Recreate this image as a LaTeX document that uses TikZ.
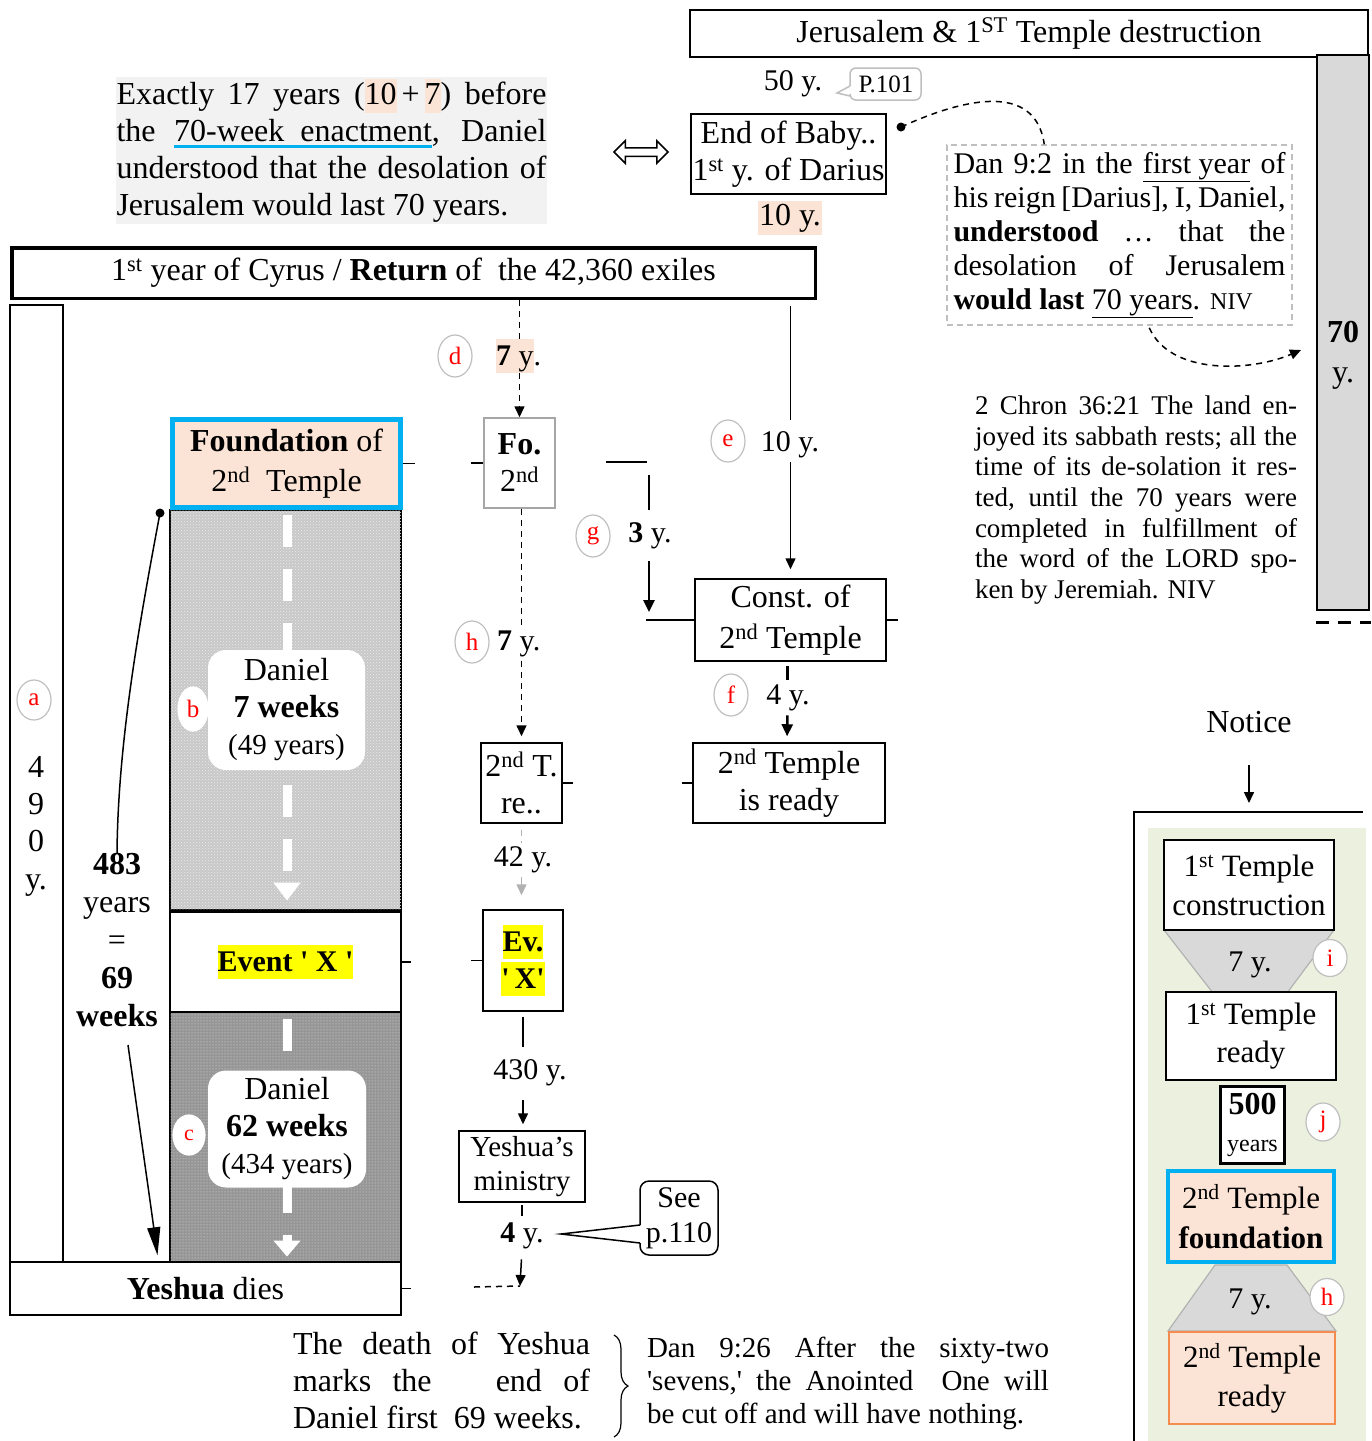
\documentclass[tikz,border=0pt]{standalone}
\usepackage{fontspec}
\setmainfont{Liberation Serif}
\usetikzlibrary{arrows.meta,shapes.geometric,shapes.arrows,decorations.pathreplacing,calc,patterns}
\definecolor{peach}{RGB}{251,228,213}
\definecolor{ublue}{RGB}{0,176,240}
\definecolor{bggray}{RGB}{242,242,242}
\definecolor{panel}{RGB}{235,241,222}
\definecolor{bargray}{RGB}{217,217,217}
\definecolor{circgray}{RGB}{191,191,191}
\definecolor{hlyellow}{RGB}{255,255,0}
\definecolor{orng}{RGB}{244,140,80}
\definecolor{blkA}{RGB}{200,200,200}
\definecolor{blkB}{RGB}{150,150,150}
\definecolor{trap}{RGB}{217,217,217}
\newcommand\jl[2]{\hbox to #1pt{#2}}
\newcommand\bul[1]{\setbox0=\hbox{#1}\rlap{\textcolor{ublue}{\rule[-6pt]{\wd0}{2.5pt}}}\box0}
\newcommand\hly[1]{{\setlength{\fboxsep}{0pt}\colorbox{hlyellow}{\rule[-8pt]{0pt}{34pt}#1}}}
\newcommand\hlp[1]{{\setlength{\fboxsep}{0pt}\colorbox{peach}{\rule[-8pt]{0pt}{34pt}#1}}}
\tikzset{
  tx/.style={inner sep=0pt, align=center, font=\fontsize{32}{37}\selectfont},
  bx/.style={tx, draw, line width=1.5pt},
  lb/.style={inner sep=0pt, align=center, font=\fontsize{30}{35}\selectfont},
  circ/.style={ellipse, draw=circgray, line width=1.2pt, fill=white, text=red, font=\fontsize{25}{30}\selectfont, minimum width=34pt, minimum height=42pt, inner sep=0pt},
  arr/.style={-{Triangle[length=11pt,width=10pt]}, line width=1.5pt},
  arrb/.style={-{Triangle[length=12pt,width=11pt]}, line width=2.5pt},
  dsh/.style={dash pattern=on 6pt off 5pt, line width=1.5pt},
  tk/.style={line width=1.5pt},
  thk/.style={line width=2.5pt},
}
\begin{document}
\begin{tikzpicture}[x=1pt,y=-1pt]
\useasboundingbox (0,0) rectangle (1372,1441);
\fill[white] (0,0) rectangle (1372,1441);

% ===== top-left text
\node[tx, align=left, fill=bggray, minimum width=431pt, minimum height=147pt] (exact) at (331.5,150.5) {%
\jl{430}{Exactly 17 years (\hlp{10}\kern5pt+\kern5pt\hlp{7}) before}\\
\jl{430}{the \bul{70-week\ \ enactment}, Daniel}\\
\jl{430}{understood that the desolation of}\\
Jerusalem would last 70 years.};

% ===== Cyrus
\node[bx, line width=3.5pt, minimum width=803.5pt, minimum height=50.5pt] (cyrus) at (413.5,273) {1\textsuperscript{st} year of Cyrus / \textbf{Return} of\ \ the 42,360 exiles};

% ===== Jerusalem
\node[bx, minimum width=678pt, minimum height=47pt] (jer) at (1029,33.5) {Jerusalem \& 1\textsuperscript{ST} Temple destruction};
\node[draw, line width=2pt, fill=bargray, minimum width=52pt, minimum height=555pt, inner sep=0pt] (bar) at (1343,332.5) {};
\node[tx, font=\fontsize{32}{40}\selectfont] (bartxt) at (1343,355) {\textbf{70}\\y.};
\draw[line width=3pt, dash pattern=on 13pt off 9pt] (bar.south west) ++(0,11) -- ++(55,0);

\node[lb] (y50) at (793,84) {50 y.};
\node[tx, font=\fontsize{25}{30}\selectfont] (p101) at (886,84) {P.101};
\draw[circgray, line width=1.5pt, rounded corners=6pt] (850,86) -- (850,68) -- (921,68) -- (921,100) -- (850,100) -- (850,96);
\draw[circgray, line width=1.5pt] (850,86) -- (837,93) -- (850,96);

\node[bx, minimum width=195pt, minimum height=80pt] (baby) at (788.5,154) {End of Baby..\\1\textsuperscript{st} y. of Darius};
\node[tx, fill=peach, inner xsep=1pt, inner ysep=3pt] (y10a) at (790,218) {10 y.};
\node[double arrow, draw, line width=1.5pt, minimum height=54pt, minimum width=22pt, inner sep=3.5pt, double arrow head extend=7pt] (dbl) at (641,152) {};

\node[draw=circgray, dash pattern=on 6pt off 4pt, line width=1.5pt, minimum width=345pt, minimum height=180pt, inner sep=0pt, font=\fontsize{30}{34}\selectfont, align=left] (dan) at (1119.5,235) {%
\jl{332}{Dan 9:2 in the \underline{first year} of}\\
\jl{332}{his reign [Darius], I, Daniel,}\\
\jl{332}{\textbf{understood} … that the}\\
\jl{332}{desolation of Jerusalem}\\
\textbf{would last} \underline{70 years}. {\fontsize{24}{34}\selectfont NIV}};
\coordinate (dotA) at (901,127);
\fill (dotA) circle (4.5pt);
\draw[dsh] (dotA) .. controls (960,100) and (1035,80) .. ($(dan.north west)+(98,0)$);
\coordinate (barpt) at ($(bar.west)+(-15,17.5)$);
\draw[dsh, -{Triangle[length=11pt,width=10pt]}] ($(dan.south west)+(203,2)$) .. controls (1170,375) and (1250,372) .. (barpt);

\node[tx, align=left, font=\fontsize{27}{30.7}\selectfont] (chron) at (1136,500) {%
\jl{322}{2 Chron 36:21 The land en-}\\
\jl{322}{joyed its sabbath rests; all the}\\
\jl{322}{time of its de-solation it res-}\\
\jl{322}{ted, until the 70 years were}\\
\jl{322}{completed in fulfillment of}\\
\jl{322}{the word of the LORD spo-}\\
ken by Jeremiah. NIV};

% ===== Notice panel
\node[tx] (notice) at (1249,722) {Notice};
\coordinate (nota) at (1249,765);
\coordinate (notb) at (1249,803);
\draw[arr] (nota) -- (notb);
\draw[line width=1.5pt] (1363,812) -- (1134,812) -- (1134,1441);
\fill[panel] (1148,828) rectangle (1366,1441);
\filldraw[fill=trap, draw=gray!60, line width=1.2pt] (1164,930) -- (1334,930) -- (1287,993) -- (1213,993) -- cycle;
\filldraw[fill=trap, draw=gray!60, line width=1.2pt] (1215,1265) -- (1287,1265) -- (1336,1331) -- (1168,1331) -- cycle;
\node[bx, fill=white, minimum width=170pt, minimum height=90pt, font=\fontsize{31}{39}\selectfont] (t1c) at (1249,885) {1\textsuperscript{st} Temple\\construction};
\node[lb] (s7a) at (1250,965) {7 y.};
\node[circ, minimum height=37pt] (ci) at (1330,958) {i};
\node[bx, fill=white, minimum width=170pt, minimum height=88pt, font=\fontsize{31}{38}\selectfont] (t1r) at (1251,1036) {1\textsuperscript{st} Temple\\ready};
\node[tx, draw, line width=3pt, fill=white, minimum width=64pt, minimum height=77pt] (b500) at (1252.5,1125) {\textbf{500}\\{\fontsize{24}{30}\selectfont years}};
\node[circ, minimum height=38pt] (cj) at (1323,1122) {j};
\node[tx, draw=ublue, line width=4pt, fill=peach, minimum width=166pt, minimum height=91pt, font=\fontsize{31}{40}\selectfont] (t2f) at (1251,1216.5) {2\textsuperscript{nd} Temple\\\textbf{foundation}};
\node[lb] (s7b) at (1250,1302) {7 y.};
\node[circ, minimum height=37pt] (ch2) at (1327,1297) {h};
\node[tx, draw=orng, line width=2pt, fill=peach, minimum width=166pt, minimum height=92pt, font=\fontsize{31}{39}\selectfont] (t2r) at (1252,1378) {2\textsuperscript{nd} Temple\\ready};

% ===== left column
\node[bx, minimum width=53pt, minimum height=957pt] (c490) at (36.5,783.5) {};
\node[tx, font=\fontsize{32}{37.3}\selectfont] (t490) at (36,826) {4\\9\\0\\y.};
\node[circ, minimum height=40pt] (ca) at (34,700) {a};
\node[tx, font=\fontsize{32}{38}\selectfont] (n483) at (117,940) {\textbf{483}\\years\\=\\\textbf{69}\\\textbf{weeks}};

\node[draw, line width=1.2pt, fill=blkA, minimum width=231pt, minimum height=400pt, inner sep=0pt] (blk1) at (285.5,710) {};
\fill[pattern=crosshatch dots, pattern color=white!85!gray] (blk1.north west) rectangle (blk1.south east);
\node[draw, line width=1.2pt, fill=blkB, minimum width=231pt, minimum height=252pt, inner sep=0pt] (blk2) at (285.5,1136) {};
\fill[pattern=dots, pattern color=white!80!gray] (blk2.north west) rectangle (blk2.south east);
\draw[line width=1.2pt] (blk1.north west) rectangle (blk1.south east);
\draw[line width=1.2pt] (blk2.north west) rectangle (blk2.south east);
\draw[white, line width=9pt, dash pattern=on 32pt off 22pt, -{Triangle[length=18pt,width=26pt]}, shorten <=6pt, shorten >=10pt] ($(blk1.north)+(1.5,0)$) -- ($(blk1.south)+(1.5,0)$);
\draw[white, line width=9pt, dash pattern=on 32pt off 22pt, -{Triangle[length=16pt,width=26pt]}, shorten <=10pt, shorten >=6pt] ($(blk2.north)+(1.5,0)$) -- ($(blk2.south)+(1.5,0)$);
\node[bx, line width=2pt, fill=white, minimum width=231pt, minimum height=100pt, font=\bfseries\fontsize{30}{35}\selectfont] (eventX) at (285.5,962) {\hly{Event \textquotesingle\ X \textquotesingle}};
\node[tx, draw=ublue, line width=5pt, fill=peach, minimum width=228pt, minimum height=88pt, font=\fontsize{32}{40}\selectfont] (found) at (286.5,463.5) {\textbf{Foundation} of\\2\textsuperscript{nd}\ \ Temple};
\node[tx, fill=white, rounded corners=18pt, minimum width=157pt, minimum height=120pt] (dan7) at (286.5,710) {Daniel\\\textbf{7 weeks}\\{\fontsize{29}{37}\selectfont (49 years)}};
\node[tx, fill=white, rounded corners=18pt, minimum width=158pt, minimum height=117pt] (dan62) at (287,1129) {Daniel\\\textbf{62 weeks}\\{\fontsize{29}{37}\selectfont (434 years)}};
\node[circ, draw=white, minimum width=30pt, minimum height=44pt] (cb) at (193,709) {b};
\node[circ, draw=white, minimum width=32pt, minimum height=40pt, font=\fontsize{22}{26}\selectfont] (cc) at (189,1135) {c};
\node[bx, fill=white, minimum width=391pt, minimum height=53pt] (ydies) at (205.5,1288.5) {\textbf{Yeshua} dies};

\coordinate (dotF) at (160,513);
\fill (dotF) circle (4.5pt);
\draw[tk] (dotF) .. controls (140,620) and (118,740) .. (n483.north);
\draw[tk, -{Triangle[length=28pt,width=13pt]}] ($(n483.south)+(11,18)$) .. controls (140,1130) and (150,1200) .. ($(ydies.north)+(-48,-6)$);

% ===== middle column
\node[circ] (cd) at (455,356) {d};
\node[lb, anchor=west] (d7) at (496,356) {\hlp{\textbf{7} y}.};
\node[bx, draw=gray!70, minimum width=71pt, minimum height=90pt] (fo) at (519.5,463) {\textbf{Fo.}\\2\textsuperscript{nd}};
\draw[dsh] (cyrus.south -| fo.north) -- (fo.north |- d7.north);
\draw[dsh, arr] (fo.north |- d7.south) -- (fo.north);

\node[circ] (ch) at (472,642) {h};
\node[lb, anchor=west] (h7) at (497,644) {\textbf{7} y.};
\node[bx, minimum width=81pt, minimum height=80pt] (tre) at (521.5,783) {2\textsuperscript{nd} T.\\re..};
\draw[dsh, shorten >=4pt] ($(fo.south)+(2,0)$) -- ($(fo.south |- h7.north)+(2,0)$);
\draw[dsh, arr, shorten <=4pt, shorten >=6pt] ($(fo.south |- h7.south)+(2,0)$) -- (tre.north);

\node[lb] (y42) at (523,860) {42 y.};
\node[bx, minimum width=80pt, minimum height=101pt, font=\bfseries\fontsize{30}{37}\selectfont] (evx) at (523,960.5) {\hly{Ev.}\\\hly{\textquotesingle\,X\textquotesingle}};
\draw[gray!60, dsh, shorten <=6pt, shorten >=4pt] (tre.south) -- (tre.south |- y42.north);
\draw[gray!60, arr, shorten <=4pt, shorten >=14pt] (tre.south |- y42.south) -- (tre.south |- evx.north);

\node[lb] (y430) at (530,1073) {430 y.};
\node[bx, minimum width=126pt, minimum height=71pt, font=\fontsize{29}{34}\selectfont] (min) at (522,1166.5) {Yeshua’s\\ministry};
\draw[tk, shorten <=5pt, shorten >=13pt] (evx.south) -- (evx.south |- y430.north);
\draw[arr, shorten <=14pt, shorten >=6pt] (evx.south |- y430.south) -- (evx.south |- min.north);

\node[lb] (y4) at (522,1236) {\textbf{4} y.};
\draw[tk, shorten <=2pt, shorten >=7pt] (min.south) -- (min.south |- y4.north);
\coordinate (endY) at (520,1286);
\coordinate (endL) at (474,1287);
\draw[arr, shorten <=10pt] (min.south |- y4.south) -- (endY);
\draw[dsh] (endL) -- (endY);

\node[tx, font=\fontsize{30}{35}\selectfont] (see) at (679,1218) {See\\p.110};
\coordinate (seetip) at (561,1234);
\draw[tk, rounded corners=9pt] (640,1225) -- (640,1181) -- (718,1181) -- (718,1255) -- (640,1255) -- (640,1243);
\draw[tk] (640,1225) -- (seetip) -- (640,1243);

% ===== right column
\node[circ] (ce) at (728,441) {e};
\node[lb] (y10b) at (790,445) {10 y.};
\node[bx, minimum width=191pt, minimum height=82pt, font=\fontsize{32}{41}\selectfont] (const) at (790.5,620) {Const. of\\2\textsuperscript{nd} Temple};
\draw[tk, shorten <=6pt, shorten >=12pt] (cyrus.south -| const.north) -- (const.north |- y10b.north);
\draw[arr, shorten <=4pt, shorten >=9pt] (const.north |- y10b.south) -- (const.north);

\coordinate (g1) at (606,462);
\coordinate (g2) at (647,462);
\draw[tk] (g1) -- (g2);
\node[circ] (cg) at (593,536) {g};
\node[lb] (y3) at (650,536) {\textbf{3} y.};
\coordinate (g3) at (649,475);
\coordinate (g4) at (649,612);
\draw[thk, shorten >=13pt] (g3) -- (g3 |- y3.north);
\draw[arrb, shorten <=12pt] (g3 |- y3.south) -- (g4);
\draw[tk] (const.west) -- ++(-48,0);

\node[circ] (cf) at (731,695) {f};
\node[lb] (y4b) at (788,698) {4 y.};
\node[bx, minimum width=192pt, minimum height=80pt] (ready) at (789,783) {2\textsuperscript{nd} Temple\\is ready};
\draw[thk, shorten <=4pt, shorten >=5pt] ($(const.south)+(-3,0)$) -- ($(const.south |- y4b.north)+(-3,0)$);
\draw[arrb, shorten <=4pt, shorten >=6pt] ($(const.south |- y4b.south)+(-3,0)$) -- ($(ready.north)+(-2,0)$);

% ===== ticks
\draw[tk] (found.east) -- ++(12,0);
\draw[tk] (fo.west) -- ++(-12,0);
\draw[tk] (eventX.east) -- ++(9,0);
\draw[tk] (evx.west) -- ++(-11,0);
\draw[tk] (ydies.east) -- ++(9,0);
\draw[tk] (tre.east) -- ++(10,0);
\draw[tk] (ready.west) -- ++(-10,0);
\draw[tk] (const.east) -- ++(11,0);

% ===== bottom texts
\node[tx, align=left] (death) at (441.5,1380) {%
\jl{297}{The death of Yeshua}\\
\jl{297}{marks the\ \ \ end of}\\
Daniel first\ \ 69 weeks.};
\draw[line width=1.2pt, decorate, decoration={brace, amplitude=14pt}] (614,1335) -- (614,1437);
\node[tx, align=left, font=\fontsize{29}{33}\selectfont] (d926) at (848,1383) {%
\jl{402}{Dan 9:26 After the sixty-two}\\
\jl{402}{\textquotesingle sevens,\textquotesingle\ the Anointed\ \ One will}\\
be cut off and will have nothing.};
\end{tikzpicture}
\end{document}
